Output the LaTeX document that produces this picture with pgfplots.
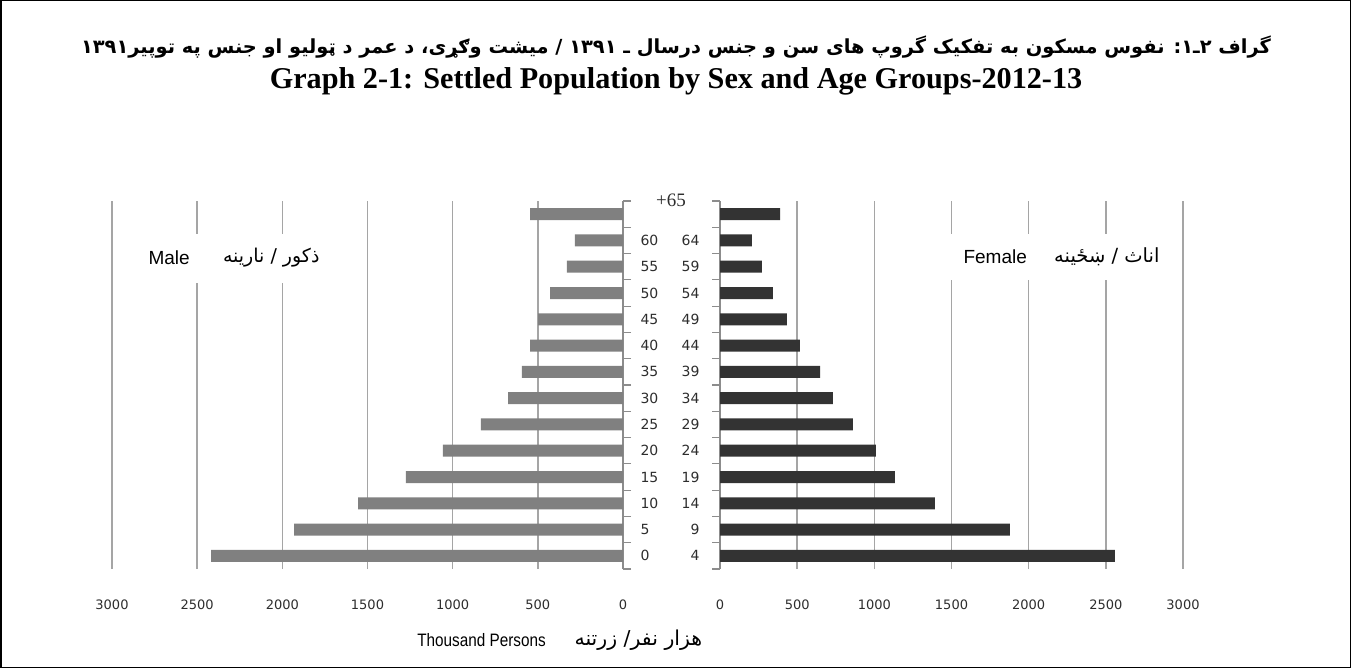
\documentclass[border=0pt]{standalone}
\usepackage{fontspec}
\usepackage{pgfplots}
\usepackage{pgfplotstable}
\pgfplotsset{compat=1.18}
\setmainfont{Liberation Sans}
\newfontfamily\arabicfont[Script=Arabic]{DejaVu Sans}
\newfontfamily\tickfont{DejaVu Sans}
\newfontfamily\titlefont{Liberation Serif}
\TeXXeTstate=1

\definecolor{malec}{RGB}{128,128,128}
\definecolor{femalec}{RGB}{51,51,51}
\definecolor{gridc}{RGB}{165,165,165}
\definecolor{axc}{RGB}{140,140,140}
\definecolor{labc}{RGB}{45,45,45}

\pgfplotstableread{
pos male female
0 2418 2558
1 1931 1878
2 1555 1393
3 1274 1133
4 1057 1010
5 834 861
6 675 732
7 593 648
8 546 518
9 499 434
10 428 343
11 329 272
12 282 207
13 546 389
}\pop

\pgfplotsset{pyr/.style={
  scale only axis, height=368pt,
  ymin=-0.5, ymax=13.5,
  enlargelimits=false, clip=false,
  xbar, bar width=12pt,
  ytick={-0.5,0.5,...,13.5}, yticklabels={},
  axis x line*=bottom,
  x axis line style={draw=none},
  xtick style={draw=none},
  y axis line style={draw=axc, line width=1.3pt},
  ytick style={draw=axc, line width=1.2pt},
  major tick length=8pt, tick align=outside,
  xmajorgrids, major grid style={draw=gridc, line width=1.5pt},
  xticklabel style={font=\tickfont\fontsize{13}{15}\selectfont, text=labc},
  xticklabel shift=19pt,
  extra y tick style={major tick length=0pt, ytick style={draw=none},
     yticklabel style={font=\tickfont\fontsize{14}{16}\selectfont, text=labc}},
}}

\begin{document}
\begin{tikzpicture}[x=1pt,y=1pt]
\path[use as bounding box] (0,0) rectangle (1351,-668);
\draw[line width=1.5pt] (0.75,-0.75) rectangle (1350.25,-667.25);

\node[font=\arabicfont\bfseries\fontsize{19.4}{22}\selectfont] at (676,-47)
  {\beginR گراف ۲ـ۱: نفوس مسکون به تفکیک گروپ های سن و جنس درسال ـ ۱۳۹۱ / میشت وګړی، د عمر د ټولیو او جنس په توپیر۱۳۹۱\endR};
\node[font=\titlefont\bfseries\fontsize{30.2}{33}\selectfont] at (676,-81)
  {Graph 2-1: Settled Population by Sex and Age Groups-2012-13};

\begin{axis}[pyr, at={(112pt,-569pt)}, anchor=south west, width=511pt,
  xmin=-3000, xmax=0,
  axis y line*=right,
  xtick={-3000,-2500,-2000,-1500,-1000,-500,0},
  xticklabels={3000,2500,2000,1500,1000,500,0},
  extra y ticks={0,1,2,3,4,5,6,7,8,9,10,11,12},
  extra y tick labels={0,5,10,15,20,25,30,35,40,45,50,55,60},
  extra y tick style={yticklabel style={anchor=west, xshift=14pt}},
]
\addplot[fill=malec, draw=none] table[x expr=-\thisrow{male}, y=pos]{\pop};
\node[font=\titlefont\fontsize{19}{21}\selectfont, text=labc] at (axis cs:0,13.5) [xshift=48pt, yshift=1pt] {+65};
\end{axis}

\begin{axis}[pyr, at={(720pt,-569pt)}, anchor=south west, width=463pt,
  xmin=0, xmax=3000,
  axis y line*=left,
  xtick={0,500,1000,1500,2000,2500,3000},
  xticklabels={0,500,1000,1500,2000,2500,3000},
  extra y ticks={0,1,2,3,4,5,6,7,8,9,10,11,12},
  extra y tick labels={4,9,14,19,24,29,34,39,44,49,54,59,64},
  extra y tick style={yticklabel style={anchor=east, xshift=-17pt}},
]
\addplot[fill=femalec, draw=none] table[x=female, y=pos]{\pop};
\end{axis}

% legend-like boxes
\fill[white] (122,-234) rectangle (345,-283);
\node[font=\fontsize{19}{22}\selectfont, anchor=west] at (145,-258) {Male};
\node[font=\arabicfont\fontsize{19}{22}\selectfont, anchor=east] at (323,-258) {\beginR ذکور / نارینه\endR};
\fill[white] (912,-234) rectangle (1172,-280);
\node[font=\fontsize{19}{22}\selectfont, anchor=west] at (960,-257) {Female};
\node[font=\arabicfont\fontsize{19.5}{22}\selectfont, anchor=east] at (1163,-257) {\beginR اناث / ښځینه\endR};

% axis title
\node[font=\fontsize{18}{21}\selectfont, anchor=east, inner sep=0pt] at (546,-640) {\scalebox{0.85}[1]{Thousand Persons}};
\node[font=\arabicfont\fontsize{20.5}{23}\selectfont, anchor=west] at (571,-640) {\beginR هزار نفر/ زرتنه\endR};
\end{tikzpicture}
\end{document}
